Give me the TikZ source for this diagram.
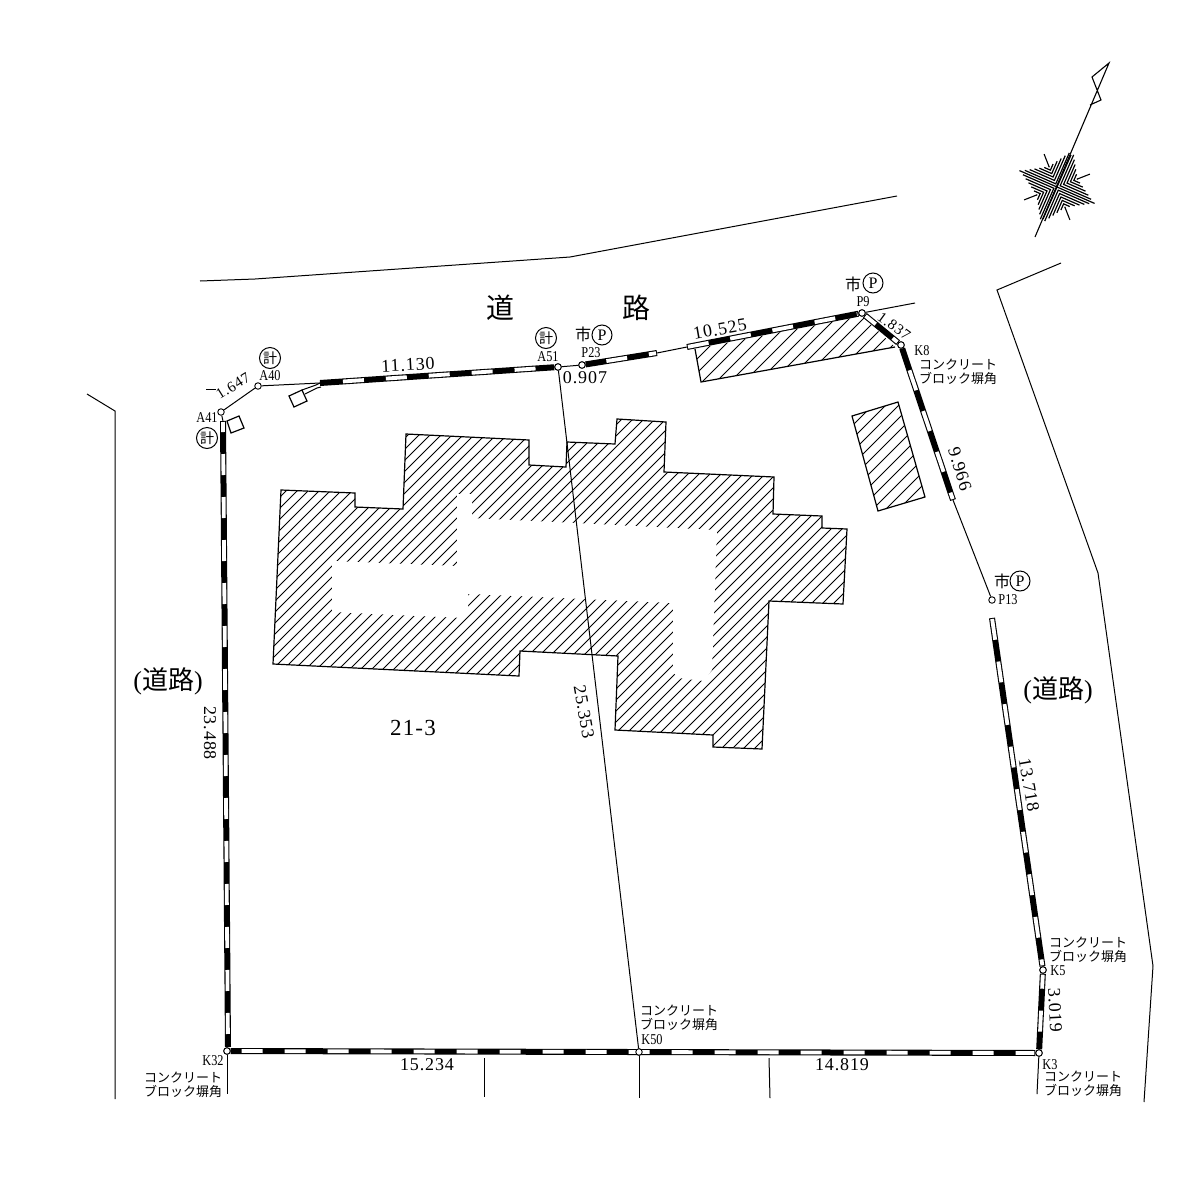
\documentclass[tikz,border=0pt]{standalone}
\usepackage{fontspec}
\setmainfont{Liberation Serif}
\newfontfamily\numfam[LetterSpace=5]{Liberation Serif}
\newfontfamily\latfam{Liberation Serif}
\newfontfamily\narrowfam[FakeStretch=0.82]{Liberation Serif}
\newfontfamily\jpfam{Noto Sans CJK JP}
\newcommand{\bandline}[3]{\draw[bandblack] (#1) -- (#2);\draw[bandwhite,dash phase=#3] (#1) -- (#2);}
\newcommand{\hatchlines}[3]{\foreach \c in {#1,#2,...,#3}{\draw[hatchline] (150,\c-150) -- (950,\c-950);}}
\tikzset{
  thin line/.style={line width=1pt,black},
  hatchline/.style={line width=.95pt,black},
  outline/.style={line width=1.2pt,black,line join=miter},
  bandblack/.style={line width=6pt,black},
  bandwhite/.style={line width=3.8pt,white,dash pattern=on 21pt off 22pt,shorten <=1pt,shorten >=1pt},
  survey/.style={circle,draw=black,fill=white,inner sep=0pt,minimum size=6.5pt,line width=.9pt},
  ringed/.style={circle,draw=black,inner sep=0pt,minimum size=21pt,line width=1pt,font=\jpfam\fontsize{14}{14}\selectfont},
  ringedP/.style={circle,draw=black,inner sep=0pt,minimum size=20pt,line width=1pt,font=\latfam\fontsize{16}{16}\selectfont},
  kanji/.style={inner sep=0pt,font=\jpfam\fontsize{16}{16}\selectfont},
  big/.style={inner sep=0pt,font=\jpfam\fontsize{28}{28}\selectfont},
  roadlabel/.style={inner sep=0pt,font=\jpfam\fontsize{26}{26}\selectfont},
  dimtext/.style={inner sep=0pt,font=\numfam\fontsize{18}{18}\selectfont},
  ptlabel/.style={inner sep=0pt,font=\narrowfam\fontsize{15}{15}\selectfont},
  material/.style={inner sep=0pt,font=\jpfam\fontsize{13}{14}\selectfont,align=left},
  materialr/.style={inner sep=0pt,font=\jpfam\fontsize{13}{14}\selectfont,align=right},
}
\begin{document}
\begin{tikzpicture}[x=1pt,y=-1pt]
\useasboundingbox (0,0) rectangle (1200,1192);
\fill[white] (0,0) rectangle (1200,1192);

% roads
\draw[thin line] (200,281) -- (255,279) -- (570,257) -- (897,196);
\draw[thin line] (1061,263) -- (997,290) -- (1098,573) -- (1153,966) -- (1144,1102);
\draw[thin line] (87,394) -- (115,411) -- (115,1099);

% main building
\begin{scope}
\clip (281,490) -- (355,493) -- (355,507) -- (403,509) -- (406,434) -- (529,440) -- (529,465) -- (566,467) -- (567,442) -- (615,444) -- (617,419) -- (666,422) -- (664,472) -- (774,477) -- (773,514) -- (822,516) -- (822,528) -- (847,529) -- (843,604) -- (769,601) -- (762,749) -- (713,747) -- (713,735) -- (615,730) -- (618,656) -- (520,651) -- (519,676) -- (273,664) -- cycle;
\hatchlines{700}{711}{1600}
\fill[white] (332,561) -- (457,566) -- (457,494) -- (472,494) -- (472,518) -- (717,530) -- (712,670) -- (704,681) -- (678,678) -- (673,672) -- (673,603) -- (472,594) -- (468,594) -- (468,614) -- (463,618) -- (332,612) -- cycle;
\end{scope}
\draw[outline] (281,490) -- (355,493) -- (355,507) -- (403,509) -- (406,434) -- (529,440) -- (529,465) -- (566,467) -- (567,442) -- (615,444) -- (617,419) -- (666,422) -- (664,472) -- (774,477) -- (773,514) -- (822,516) -- (822,528) -- (847,529) -- (843,604) -- (769,601) -- (762,749) -- (713,747) -- (713,735) -- (615,730) -- (618,656) -- (520,651) -- (519,676) -- (273,664) -- cycle;

% roadside hatched strip
\begin{scope}
\clip (695,349) -- (862,316) -- (895,347) -- (701,382) -- cycle;
\hatchlines{1000}{1014}{1300}
\end{scope}
\draw[outline] (695,349) -- (701,382) -- (895,347);

% outbuilding
\begin{scope}
\clip (852,416) -- (898,402) -- (925,497) -- (878,511) -- cycle;
\hatchlines{1200}{1213}{1450}
\end{scope}
\draw[outline] (852,416) -- (898,402) -- (925,497) -- (878,511) -- cycle;

% survey points
\node[survey] (A41) at (221,412) {};
\node[survey] (A40) at (258,386) {};
\node[survey] (A51) at (558,367) {};
\node[survey] (P23) at (582,365) {};
\node[survey] (P9) at (862,313) {};
\node[survey] (K8) at (901,345) {};
\node[survey] (P13) at (992,600) {};
\node[survey] (K5) at (1043,970) {};
\node[survey] (K3) at (1039,1053) {};
\node[survey] (K50) at (639,1052) {};
\node[survey] (K32) at (227,1051) {};

\coordinate (a41band) at (223,421);
\coordinate (k32band) at (228,1047);
\coordinate (a40band) at (320,383);
\coordinate (p23end) at (657,353);
\coordinate (stripstart) at (687,347);
\coordinate (p9ext) at (915,303);
\coordinate (k8end) at (953,500);
\coordinate (p13start) at (992,618);
\coordinate (hookA) at (303,393);
\coordinate (hookB) at (316,385);

% thin boundary lines
\draw[thin line] (A41) -- (a41band);
\draw[thin line] (A41) -- (A40);
\draw[thin line] (A40) -- (a40band);
\draw[thin line] (A51) -- (P23);
\draw[thin line] (p23end) -- (stripstart);
\draw[thin line] (P9) -- (p9ext);
\draw[thin line] (k8end) -- (P13);
\draw[thin line] (A51) -- (K50);

% dimension ticks
\coordinate (t1a) at (484,1058); \coordinate (t1b) at (484,1097);
\coordinate (t2b) at (639,1098);
\coordinate (t3a) at (769,1058); \coordinate (t3b) at (770,1098);
\coordinate (t4b) at (1037,1094);
\coordinate (t5b) at (227,1094);
\draw[thin line] (t1a) -- (t1b);
\draw[thin line] (K50) -- (t2b);
\draw[thin line] (t3a) -- (t3b);
\draw[thin line] (K3) -- (t4b);
\draw[thin line] (K32) -- (t5b);

% boundary bands
\bandline{a40band}{A51}{21}
\bandline{P23}{p23end}{23}
\bandline{stripstart}{P9}{0}
\draw[bandblack] (P9) -- (K8);
\draw[bandwhite,dash pattern=on 13pt off 22pt] (P9) -- (K8);
\bandline{K8}{k8end}{21}
\bandline{p13start}{K5}{0}
\bandline{K5}{K3}{7}
\bandline{K32}{K3}{33}
\bandline{a41band}{k32band}{11}
\node[survey] at (K32) {};
\node[survey] at (K3) {};
\node[survey] at (K50) {};
\node[survey] at (K5) {};
\node[survey] at (K8) {};
\node[survey] at (P9) {};
\node[survey] at (A51) {};
\node[survey] at (P23) {};

% small squares
\draw[outline] (289,396) -- (302,390) -- (307,401) -- (294,407) -- cycle;
\draw[thin line] (302,390) -- (hookB) -- (a40band);
\draw[thin line] (305,394) -- (317,388) -- (321,387);
\draw[outline] (227,421) -- (239,416) -- (244,428) -- (231,433) -- cycle;

% point labels
\node[ptlabel] (lA40) at (270,376) {A40};
\node[ptlabel] (lA41) at (207,418) {A41};
\node[ptlabel] (lA51) at (548,357) {A51};
\node[ptlabel] (lP23) at (591,353) {P23};
\node[ptlabel] (lP9) at (863,302) {P9};
\node[ptlabel] (lK8) at (922,351) {K8};
\node[ptlabel] (lP13) at (1008,600) {P13};
\node[ptlabel] (lK5) at (1058,971) {K5};
\node[ptlabel] (lK3) at (1050,1065) {K3};
\node[ptlabel] (lK50) at (652,1040) {K50};
\node[ptlabel] (lK32) at (213,1061) {K32};

% ringed marks
\node[ringed] (kei1) at (270,358) {計};
\node[ringed] (kei2) at (207,438) {計};
\node[ringed] (kei3) at (546,338) {計};
\node[kanji] (shi1) at (583,334) {市};
\node[ringedP] (pa1) at (602,335) {P};
\node[kanji] (shi2) at (853,284) {市};
\node[ringedP] (pa2) at (873,283) {P};
\node[kanji] (shi3) at (1002,581) {市};
\node[ringedP] (pa3) at (1020,581) {P};

% dimensions
\coordinate (dash1a) at (206,389); \coordinate (dash1b) at (216,389);
\draw[thin line] (dash1a) -- (dash1b);
\node[dimtext,font=\numfam\fontsize{15}{15}\selectfont,rotate=32] (d1) at (233,386) {1.647};
\node[dimtext,rotate=3] (d2) at (408,365) {11.130};
\node[dimtext] (d3) at (585,378) {0.907};
\node[dimtext,rotate=10] (d4) at (720,329) {10.525};
\node[dimtext,font=\numfam\fontsize{15}{15}\selectfont,rotate=-36] (d5) at (894,326) {1.837};
\node[dimtext,rotate=-73] (d6) at (960,469) {9.966};
\node[dimtext,rotate=-80] (d7) at (584,712) {25.353};
\node[dimtext,rotate=-90] (d8) at (210,733) {23.488};
\node[dimtext,rotate=-80] (d9) at (1029,785) {13.718};
\node[dimtext,rotate=-87] (d10) at (1055,1010) {3.019};
\node[dimtext] (d11) at (427,1065) {15.234};
\node[dimtext] (d12) at (842,1065) {14.819};

% material notes
\node[material] (m1) at (958,372) {コンクリート\\ブロック塀角};
\node[material] (m2) at (1088,950) {コンクリート\\ブロック塀角};
\node[material] (m3) at (1083,1084) {コンクリート\\ブロック塀角};
\node[material] (m4) at (679,1018) {コンクリート\\ブロック塀角};
\node[materialr] (m5) at (183,1085) {コンクリート\\ブロック塀角};

% road names and parcel
\node[big] (r1) at (500,308) {道};
\node[big] (r2) at (636,308) {路};
\node[roadlabel] (r3) at (168,681) {\latfam(\jpfam 道路\latfam)};
\node[roadlabel] (r4) at (1058,690) {\latfam(\jpfam 道路\latfam)};
\node[inner sep=0pt,font=\numfam\fontsize{23}{23}\selectfont] (parcel) at (413,728) {21-3};

% north mark
\coordinate (nTail) at (1035,237);
\coordinate (nNeck) at (1090,105);
\coordinate (nTip) at (1109,63);
\draw[line width=1.1pt] (nTail) -- (nTip) -- (1092,77) -- (1101,100) -- (nNeck);
\begin{scope}[shift={(1057,187)},rotate=-23.6]
\draw[line width=1.2pt] (-41,0) -- (41,0);
\draw[line width=1.2pt] (0,-35) -- (0,35);
\foreach \sx/\sy in {1/1,1/-1,-1/1,-1/-1}{
  \foreach \k in {0,...,5}{
    \pgfmathsetmacro\dd{2.4+2.6*\k}
    \pgfmathsetmacro\LL{40-1.6*\dd}
    \draw[line width=1.2pt] (\sx*\LL,\sy*\dd) -- (\sx*\dd,\sy*\dd) -- (\sx*\dd,\sy*\LL);
  }
  \draw[line width=1.1pt] (\sx*15,\sy*15) -- (\sx*25,\sy*25);
}
\end{scope}
\end{tikzpicture}
\end{document}
